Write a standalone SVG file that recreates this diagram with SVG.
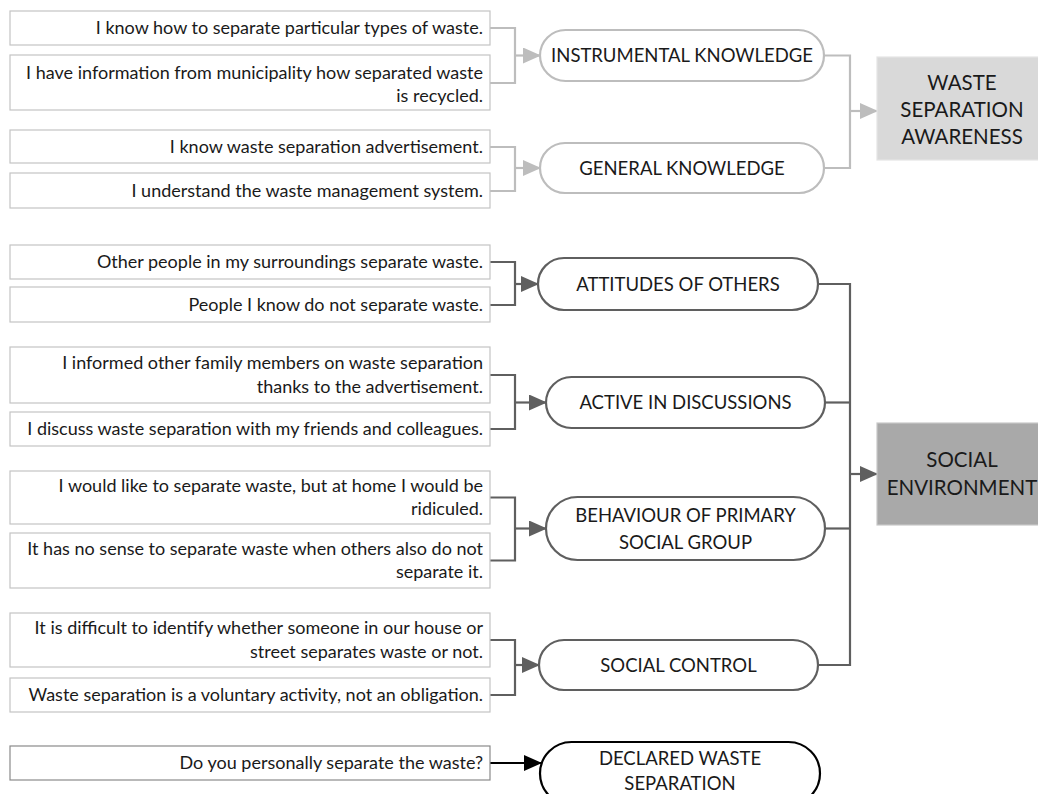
<svg xmlns="http://www.w3.org/2000/svg" width="1038" height="794" viewBox="0 0 1038 794">
<defs>
<style>
text{font-family:Lato,"Open Sans","Liberation Sans",sans-serif;fill:#1a1a1a}
.item{fill:#fff;stroke:#c4c4c4;stroke-width:1.2}
.item2{fill:#fff;stroke:#8a8a8a;stroke-width:1.2}
.it{font-size:18px;text-anchor:end}
.pl{fill:#fff;stroke:#bdbdbd;stroke-width:2.2}
.pd{fill:#fff;stroke:#5f5f5f;stroke-width:2.2}
.pb{fill:#fff;stroke:#000;stroke-width:2.2}
.pt{font-size:18.5px;text-anchor:middle}
.cl{fill:none;stroke:#bdbdbd;stroke-width:2.2}
.cd{fill:none;stroke:#5f5f5f;stroke-width:2.2}
.cb{fill:none;stroke:#000;stroke-width:2.2}
.bt{font-size:20.5px;text-anchor:middle}
</style>
<marker id="al" markerUnits="userSpaceOnUse" markerWidth="18" markerHeight="16" refX="17" refY="8" orient="auto"><path d="M0,0 L18,8 L0,16 Z" fill="#bdbdbd"/></marker>
<marker id="ad" markerUnits="userSpaceOnUse" markerWidth="18" markerHeight="16" refX="17" refY="8" orient="auto"><path d="M0,0 L18,8 L0,16 Z" fill="#5f5f5f"/></marker>
<marker id="ab" markerUnits="userSpaceOnUse" markerWidth="18" markerHeight="16" refX="17" refY="8" orient="auto"><path d="M0,0 L18,8 L0,16 Z" fill="#000"/></marker>
</defs>
<rect width="1038" height="794" fill="#fff"/>

<g id="connectors">
<path class="cl" d="M490,28 H515 V83 H490"/>
<path class="cl" d="M515,55.5 H540" marker-end="url(#al)"/>
<path class="cl" d="M490,147 H515 V191 H490"/>
<path class="cl" d="M515,168 H540" marker-end="url(#al)"/>
<path class="cl" d="M824,55.5 H850 V168 H824"/>
<path class="cl" d="M850,111 H877" marker-end="url(#al)"/>
<path class="cd" d="M490,262 H515 V305 H490"/>
<path class="cd" d="M515,284 H538" marker-end="url(#ad)"/>
<path class="cd" d="M490,375 H515 V429 H490"/>
<path class="cd" d="M515,402.5 H546" marker-end="url(#ad)"/>
<path class="cd" d="M490,497.5 H515 V560.5 H490"/>
<path class="cd" d="M515,528.5 H546" marker-end="url(#ad)"/>
<path class="cd" d="M490,640 H515 V695 H490"/>
<path class="cd" d="M515,665 H539" marker-end="url(#ad)"/>
<path class="cd" d="M818,284 H850 V665 H818"/>
<path class="cd" d="M825,402.5 H850"/>
<path class="cd" d="M825,528.5 H850"/>
<path class="cd" d="M850,474 H877" marker-end="url(#ad)"/>
<path class="cb" d="M490,763 H541" marker-end="url(#ab)"/>
</g>

<g id="q1"><rect class="item" x="10" y="11" width="480" height="34"/><text class="it" x="483" y="34">I know how to separate particular types of waste.</text></g>
<g id="q2"><rect class="item" x="10" y="55" width="480" height="55"/><text class="it" x="483" y="79">I have information from municipality how separated waste</text><text class="it" x="483" y="102">is recycled.</text></g>
<g id="q3"><rect class="item" x="10" y="130" width="480" height="33"/><text class="it" x="483" y="153">I know waste separation advertisement.</text></g>
<g id="q4"><rect class="item" x="10" y="173" width="480" height="35"/><text class="it" x="483" y="197">I understand the waste management system.</text></g>
<g id="q5"><rect class="item" x="10" y="245" width="480" height="34"/><text class="it" x="483" y="268">Other people in my surroundings separate waste.</text></g>
<g id="q6"><rect class="item" x="10" y="287" width="480" height="35"/><text class="it" x="483" y="311">People I know do not separate waste.</text></g>
<g id="q7"><rect class="item" x="10" y="347" width="480" height="56"/><text class="it" x="483" y="369">I informed other family members on waste separation</text><text class="it" x="483" y="393">thanks to the advertisement.</text></g>
<g id="q8"><rect class="item" x="10" y="412" width="480" height="34"/><text class="it" x="483" y="435">I discuss waste separation with my friends and colleagues.</text></g>
<g id="q9"><rect class="item" x="10" y="471" width="480" height="53"/><text class="it" x="483" y="492">I would like to separate waste, but at home I would be</text><text class="it" x="483" y="515">ridiculed.</text></g>
<g id="q10"><rect class="item" x="10" y="533" width="480" height="55"/><text class="it" x="483" y="555">It has no sense to separate waste when others also do not</text><text class="it" x="483" y="578">separate it.</text></g>
<g id="q11"><rect class="item" x="10" y="613" width="480" height="54"/><text class="it" x="483" y="634">It is difficult to identify whether someone in our house or</text><text class="it" x="483" y="658">street separates waste or not.</text></g>
<g id="q12"><rect class="item" x="10" y="678" width="480" height="34"/><text class="it" x="483" y="701">Waste separation is a voluntary activity, not an obligation.</text></g>
<g id="q13"><rect class="item2" x="10" y="746" width="480" height="34"/><text class="it" x="483" y="769">Do you personally separate the waste?</text></g>

<g id="instrumental"><rect class="pl" x="540" y="30" width="284" height="51" rx="25.5"/><text class="pt" x="682" y="62">INSTRUMENTAL KNOWLEDGE</text></g>
<g id="general"><rect class="pl" x="540" y="143" width="284" height="50" rx="25"/><text class="pt" x="682" y="174.5">GENERAL KNOWLEDGE</text></g>
<g id="attitudes"><rect class="pd" x="538" y="258" width="280" height="52" rx="26"/><text class="pt" x="678" y="290.5">ATTITUDES OF OTHERS</text></g>
<g id="active"><rect class="pd" x="546" y="377" width="279" height="51" rx="25.5"/><text class="pt" x="685.5" y="409">ACTIVE IN DISCUSSIONS</text></g>
<g id="behaviour"><rect class="pd" x="546" y="497" width="279" height="63" rx="31.5"/><text class="pt" x="685.5" y="521.5">BEHAVIOUR OF PRIMARY</text><text class="pt" x="685.5" y="548.5">SOCIAL GROUP</text></g>
<g id="socialcontrol"><rect class="pd" x="539" y="640" width="279" height="50" rx="25"/><text class="pt" x="678.5" y="671.5">SOCIAL CONTROL</text></g>
<g id="declared"><rect class="pb" x="540" y="742" width="280" height="63" rx="31.5"/><text class="pt" x="680" y="764.5">DECLARED WASTE</text><text class="pt" x="680" y="789.5">SEPARATION</text></g>

<g id="awareness"><rect x="877" y="57" width="170" height="103" fill="#d9d9d9" stroke="#e4e4e4" stroke-width="1.2"/><text class="bt" x="962" y="90">WASTE</text><text class="bt" x="962" y="117">SEPARATION</text><text class="bt" x="962" y="144">AWARENESS</text></g>
<g id="socialenv"><rect x="877" y="423" width="170" height="102" fill="#a9a9a9" stroke="#c8c8c8" stroke-width="1.2"/><text class="bt" x="962" y="467">SOCIAL</text><text class="bt" x="962" y="495">ENVIRONMENT</text></g>
</svg>
